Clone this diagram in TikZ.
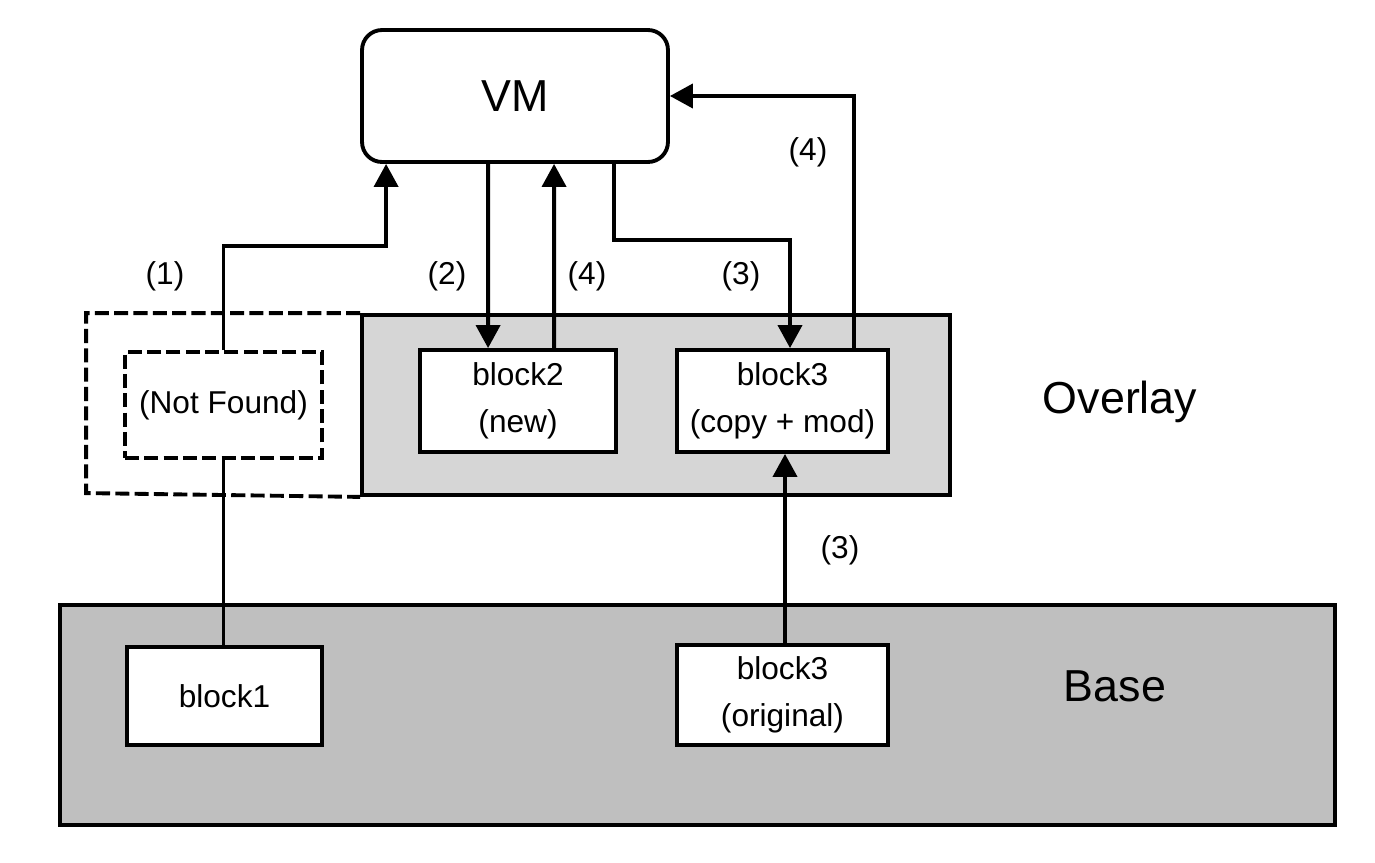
\documentclass[tikz,border=0pt]{standalone}
\usepackage{fontspec}
\setmainfont{Liberation Sans}
\usepackage{tikz}
\usetikzlibrary{arrows.meta}

\begin{document}
\begin{tikzpicture}[x=0.02cm,y=-0.02cm,line width=2.2pt,
    blk/.style={draw,fill=white,inner sep=0pt,align=center,font=\fontsize{18}{27}\selectfont},
    lbl/.style={font=\fontsize{18}{21}\selectfont},
    big/.style={font=\fontsize{25.5}{30}\selectfont},
    arr/.style={-{Triangle[length=0.46cm,width=0.48cm]}},
    dsh/.style={dash pattern=on 8pt off 3pt}]
      \useasboundingbox (0,0) rectangle (1375,862);
      % layers
      \node[draw,fill=black!16,minimum width=11.76cm,minimum height=3.6cm] (overlay) at (656,405) {};
      \draw[dsh] (overlay.north west) -- ++(-274,0) -- ++(0,180) -- (overlay.south west);
      \node[draw,fill=black!25,minimum width=25.5cm,minimum height=4.4cm] (base) at (697.5,715) {};
      \node[big] (overlaytxt) at (1120,402) {Overlay};
      \node[big] (basetxt) at (1115,686) {Base};
      % blocks
      \node[draw,rounded corners=0.4cm,minimum width=6.12cm,minimum height=2.64cm,big] (vm) at (515,96) {VM};
      \node[blk,dsh,minimum width=3.94cm,minimum height=2.12cm] (notfound) at (223.5,405) {(Not Found)};
      \node[blk,minimum width=3.92cm,minimum height=2.04cm] (block2) at (518,401) {block2\\(new)};
      \node[blk,minimum width=4.22cm,minimum height=2.04cm] (copy) at (782.5,401) {block3\\(copy + mod)};
      \node[blk,minimum width=3.9cm,minimum height=1.96cm] (block1) at (224.5,696) {block1};
      \node[blk,minimum width=4.22cm,minimum height=2cm] (orig) at (782.5,695) {block3\\(original)};
      % connectors
      \draw[arr] (notfound.north) -- ++(0,-104) -| ([xshift=0.52cm]vm.south west);
      \draw (notfound.south) -- (notfound.south |- block1.north);
      \draw[arr] ([xshift=2.56cm]vm.south west) -- ([xshift=1.4cm]block2.north west);
      \draw[arr] ([xshift=2.72cm]block2.north west) -- ([xshift=3.88cm]vm.south west);
      \draw[arr] ([xshift=-1.12cm]vm.south east) -- ++(0,76) -| ([xshift=0.15cm]copy.north);
      \draw[arr] ([xshift=-0.72cm]copy.north east) |- (vm.east);
      \draw[arr] ([xshift=0.05cm]orig.north) -- ([xshift=0.05cm]copy.south);
      % step labels
      \node[lbl] (n1) at (165,276) {(1)};
      \node[lbl] (n2) at (447,276) {(2)};
      \node[lbl] (n4a) at (587,276) {(4)};
      \node[lbl] (n3a) at (741,276) {(3)};
      \node[lbl] (n4b) at (808,152) {(4)};
      \node[lbl] (n3b) at (840,550) {(3)};
    \end{tikzpicture}
\end{document}
